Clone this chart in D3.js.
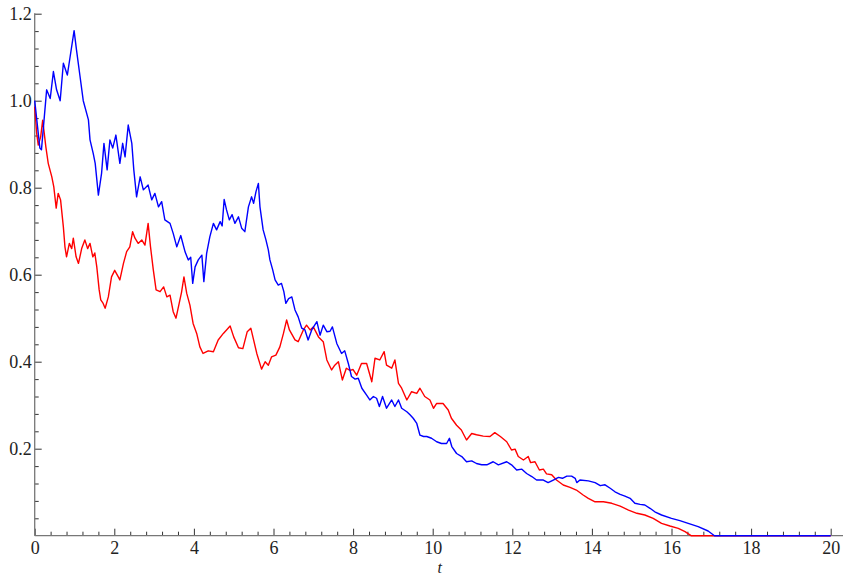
<!DOCTYPE html>
<html>
<head>
<meta charset="utf-8">
<script src="https://cdn.jsdelivr.net/npm/d3@7"></script>
<style>
  html, body { margin: 0; padding: 0; background: #fff; }
  svg { display: block; }
</style>
</head>
<body>
<svg id="chart" width="843" height="574"></svg>
<script>
// Two sample paths of a decaying process, absorbed at zero.
const blueT = [0, 0.13, 0.17, 0.30, 0.39, 0.47, 0.55, 0.64, 0.72, 0.82, 0.89, 0.99, 1.05, 1.14, 1.22, 1.35, 1.39, 1.47, 1.52, 1.60,
  1.68, 1.74, 1.82, 1.89, 1.96, 2.04, 2.14, 2.21, 2.27, 2.35, 2.44, 2.49, 2.56, 2.65, 2.73, 2.85, 2.94, 3.02, 3.11, 3.19,
  3.27, 3.40, 3.48, 3.57, 3.67, 3.78, 3.86, 3.92, 3.97, 4.03, 4.11, 4.20, 4.25, 4.32, 4.40, 4.49, 4.57, 4.66, 4.71, 4.76,
  4.82, 4.89, 4.96, 5.03, 5.12, 5.20, 5.28, 5.37, 5.45, 5.50, 5.56, 5.62, 5.66, 5.74, 5.81, 5.87, 5.91, 5.98, 6.04, 6.12,
  6.20, 6.26, 6.31, 6.38, 6.46, 6.54, 6.62, 6.71, 6.79, 6.87, 6.96, 7.09, 7.17, 7.25, 7.34, 7.42, 7.48, 7.59, 7.71, 7.79,
  7.88, 7.96, 8.05, 8.13, 8.22, 8.34, 8.42, 8.51, 8.59, 8.66, 8.74, 8.84, 8.97, 9.05, 9.14, 9.22, 9.35, 9.43, 9.51, 9.60,
  9.68, 9.77, 9.85, 9.97, 10.10, 10.22, 10.35, 10.42, 10.48, 10.60, 10.73, 10.85, 10.98, 11.10, 11.23, 11.36, 11.52, 11.65, 11.86, 11.98,
  12.11, 12.24, 12.36, 12.49, 12.61, 12.78, 12.90, 13.03, 13.16, 13.26, 13.37, 13.49, 13.58, 13.62, 13.70, 13.91, 14.08, 14.21, 14.33, 14.46,
  14.58, 14.71, 14.83, 14.96, 15.08, 15.21, 15.33, 15.46, 15.58, 15.75, 16.00, 16.21, 16.42, 16.67, 16.92, 17.08, 20];
const blueV = [1.000, 0.891, 0.887, 1.025, 1.005, 1.067, 1.025, 1.000, 1.086, 1.059, 1.101, 1.161, 1.117, 1.055, 1.000, 0.956, 0.910, 0.879, 0.856, 0.783,
  0.833, 0.902, 0.841, 0.910, 0.891, 0.921, 0.856, 0.902, 0.871, 0.944, 0.902, 0.841, 0.779, 0.825, 0.795, 0.806, 0.772, 0.787, 0.756, 0.768,
  0.726, 0.718, 0.695, 0.664, 0.690, 0.652, 0.634, 0.640, 0.580, 0.618, 0.634, 0.645, 0.584, 0.649, 0.687, 0.718, 0.703, 0.722, 0.712, 0.773,
  0.749, 0.726, 0.738, 0.718, 0.733, 0.707, 0.699, 0.756, 0.779, 0.764, 0.791, 0.810, 0.756, 0.703, 0.680, 0.657, 0.634, 0.611, 0.588, 0.576,
  0.580, 0.561, 0.534, 0.545, 0.549, 0.519, 0.503, 0.477, 0.473, 0.450, 0.473, 0.492, 0.461, 0.484, 0.469, 0.470, 0.480, 0.442, 0.419, 0.425,
  0.396, 0.366, 0.360, 0.362, 0.339, 0.323, 0.312, 0.320, 0.316, 0.297, 0.320, 0.293, 0.312, 0.297, 0.312, 0.293, 0.285, 0.278, 0.270, 0.258,
  0.231, 0.228, 0.228, 0.224, 0.216, 0.212, 0.212, 0.224, 0.205, 0.189, 0.182, 0.170, 0.172, 0.166, 0.163, 0.163, 0.170, 0.163, 0.170, 0.163,
  0.151, 0.153, 0.143, 0.136, 0.128, 0.128, 0.122, 0.128, 0.134, 0.132, 0.137, 0.137, 0.132, 0.122, 0.128, 0.126, 0.122, 0.115, 0.117, 0.109,
  0.101, 0.095, 0.091, 0.086, 0.0745, 0.072, 0.0706, 0.063, 0.055, 0.0476, 0.040, 0.0345, 0.0285, 0.0207, 0.0108, 0, 0];

const redT = [0, 0.05, 0.09, 0.15, 0.20, 0.24, 0.28, 0.34, 0.43, 0.48, 0.54, 0.59, 0.65, 0.72, 0.76, 0.80, 0.87, 0.93, 0.97, 1.04,
  1.10, 1.18, 1.26, 1.33, 1.39, 1.46, 1.51, 1.56, 1.62, 1.66, 1.72, 1.77, 1.85, 1.93, 2.01, 2.10, 2.14, 2.23, 2.31, 2.39,
  2.46, 2.52, 2.60, 2.69, 2.77, 2.85, 2.91, 2.98, 3.05, 3.15, 3.24, 3.32, 3.40, 3.48, 3.55, 3.63, 3.69, 3.75, 3.82, 3.90,
  3.98, 4.07, 4.15, 4.23, 4.36, 4.49, 4.61, 4.74, 4.82, 4.91, 5.00, 5.12, 5.23, 5.34, 5.43, 5.50, 5.58, 5.70, 5.79, 5.87,
  5.95, 6.06, 6.16, 6.25, 6.33, 6.40, 6.54, 6.62, 6.75, 6.83, 6.92, 7.00, 7.13, 7.25, 7.34, 7.46, 7.54, 7.63, 7.73, 7.83,
  7.92, 8.00, 8.09, 8.21, 8.34, 8.47, 8.55, 8.67, 8.78, 8.84, 8.97, 9.05, 9.14, 9.22, 9.35, 9.47, 9.60, 9.68, 9.80, 9.93,
  10.02, 10.10, 10.26, 10.39, 10.47, 10.60, 10.72, 10.85, 10.98, 11.10, 11.27, 11.44, 11.56, 11.70, 11.86, 11.98, 12.07, 12.15, 12.28, 12.40,
  12.46, 12.57, 12.68, 12.78, 12.86, 12.99, 13.11, 13.28, 13.45, 13.61, 13.78, 13.91, 14.08, 14.29, 14.50, 14.71, 14.92, 15.13, 15.33, 15.54,
  15.75, 15.96, 16.17, 16.34, 16.49, 20];
const redV = [0.986, 0.925, 0.898, 0.917, 0.955, 0.925, 0.894, 0.856, 0.825, 0.802, 0.753, 0.787, 0.772, 0.710, 0.664, 0.641, 0.672, 0.660, 0.684, 0.641,
  0.626, 0.660, 0.680, 0.660, 0.672, 0.641, 0.650, 0.618, 0.565, 0.542, 0.534, 0.523, 0.549, 0.595, 0.610, 0.595, 0.588, 0.626, 0.653, 0.664,
  0.699, 0.684, 0.672, 0.680, 0.668, 0.718, 0.664, 0.611, 0.565, 0.561, 0.572, 0.549, 0.553, 0.515, 0.500, 0.534, 0.560, 0.595, 0.557, 0.530,
  0.488, 0.465, 0.434, 0.419, 0.425, 0.423, 0.450, 0.465, 0.473, 0.482, 0.457, 0.432, 0.430, 0.469, 0.477, 0.450, 0.419, 0.383, 0.400, 0.392,
  0.411, 0.415, 0.434, 0.465, 0.496, 0.473, 0.450, 0.446, 0.473, 0.484, 0.473, 0.480, 0.457, 0.446, 0.404, 0.381, 0.392, 0.400, 0.358, 0.385,
  0.380, 0.382, 0.369, 0.396, 0.396, 0.354, 0.408, 0.404, 0.423, 0.392, 0.385, 0.404, 0.350, 0.339, 0.312, 0.331, 0.327, 0.339, 0.320, 0.312,
  0.293, 0.304, 0.304, 0.289, 0.270, 0.254, 0.243, 0.220, 0.235, 0.232, 0.229, 0.228, 0.237, 0.228, 0.216, 0.197, 0.199, 0.182, 0.174, 0.182,
  0.168, 0.170, 0.151, 0.153, 0.142, 0.140, 0.128, 0.1165, 0.111, 0.105, 0.0936, 0.086, 0.078, 0.078, 0.0745, 0.068, 0.059, 0.0515, 0.0476, 0.040,
  0.0285, 0.0223, 0.017, 0.0092, 0, 0];

const xMajorTicks = [0, 2, 4, 6, 8, 10, 12, 14, 16, 18, 20];
const yMajorTicks = [0.2, 0.4, 0.6, 0.8, 1.0, 1.2];
const xLabel = "t";

const serif = "'Liberation Serif', 'Times New Roman', Times, 'DejaVu Serif', serif";
const svg = d3.select("#chart");
const W = 843;
const plotLeft = 34.7, plotRight = 830.7, plotTop = 13.7, plotBottom = 535.7;

const x = d3.scaleLinear().domain([0, 20]).range([plotLeft, plotRight]);
const y = d3.scaleLinear().domain([0, 1.2]).range([plotBottom, plotTop]);

// minor ticks: 0.4 steps on t, 0.04 steps on the value axis
const xMinor = d3.range(0, 51).map(i => +(i * 0.4).toFixed(2)).filter(v => v <= 20 && Math.abs(v / 2 - Math.round(v / 2)) > 1e-6);
const yMinor = d3.range(1, 31).map(i => +(i * 0.04).toFixed(2)).filter(v => Math.abs(v / 0.2 - Math.round(v / 0.2)) > 1e-6);

const axisColor = "#777";
const tickColor = "#333";

function styleAxis(g) {
  g.attr("font-family", serif).attr("font-size", 18);
  g.select(".domain").remove();
  g.selectAll(".tick line").attr("stroke", tickColor).attr("stroke-width", 1);
  g.selectAll(".tick text").attr("fill", "#222").style("font-family", serif).style("font-size", "18px");
}

// x axis
const gx = svg.append("g").attr("transform", `translate(0,${plotBottom})`)
  .call(d3.axisBottom(x).tickValues(xMajorTicks).tickSize(-7).tickPadding(0).tickFormat(d3.format("d")));
styleAxis(gx);
gx.selectAll(".tick text").attr("y", 18.8).attr("dy", null);
const gxm = svg.append("g").attr("transform", `translate(0,${plotBottom})`)
  .call(d3.axisBottom(x).tickValues(xMinor).tickSize(-4).tickFormat(""));
styleAxis(gxm);

// y axis
const gy = svg.append("g").attr("transform", `translate(${plotLeft},0)`)
  .call(d3.axisLeft(y).tickValues(yMajorTicks).tickSize(-7).tickPadding(3).tickFormat(d3.format(".1f")));
styleAxis(gy);
gy.selectAll(".tick text").attr("dy", "0.34em");
const gym = svg.append("g").attr("transform", `translate(${plotLeft},0)`)
  .call(d3.axisLeft(y).tickValues(yMinor).tickSize(-4).tickFormat(""));
styleAxis(gym);

// axis lines
svg.append("line").attr("x1", plotLeft).attr("x2", W).attr("y1", plotBottom).attr("y2", plotBottom)
  .attr("stroke", axisColor).attr("stroke-width", 1.3);
svg.append("line").attr("x1", plotLeft).attr("x2", plotLeft).attr("y1", plotTop - 0.5).attr("y2", plotBottom)
  .attr("stroke", axisColor).attr("stroke-width", 1.3);

// axis label
svg.append("text").attr("x", (plotLeft + W) / 2 + 1).attr("y", 572.5)
  .attr("text-anchor", "middle")
  .style("font-family", serif)
  .style("font-style", "italic").style("font-size", "16px").attr("fill", "#222")
  .text(xLabel);

// paths
const line = d3.line().x(d => x(d[0])).y(d => y(d[1]));
const redData = redT.map((t, i) => [t, redV[i]]);
const blueData = blueT.map((t, i) => [t, blueV[i]]);

svg.append("path").datum(redData).attr("d", line)
  .attr("fill", "none").attr("stroke", "#ff0000").attr("stroke-width", 1.4).attr("stroke-linejoin", "round");
svg.append("path").datum(blueData).attr("d", line)
  .attr("fill", "none").attr("stroke", "#0000ff").attr("stroke-width", 1.4).attr("stroke-linejoin", "round");
</script>
</body>
</html>
